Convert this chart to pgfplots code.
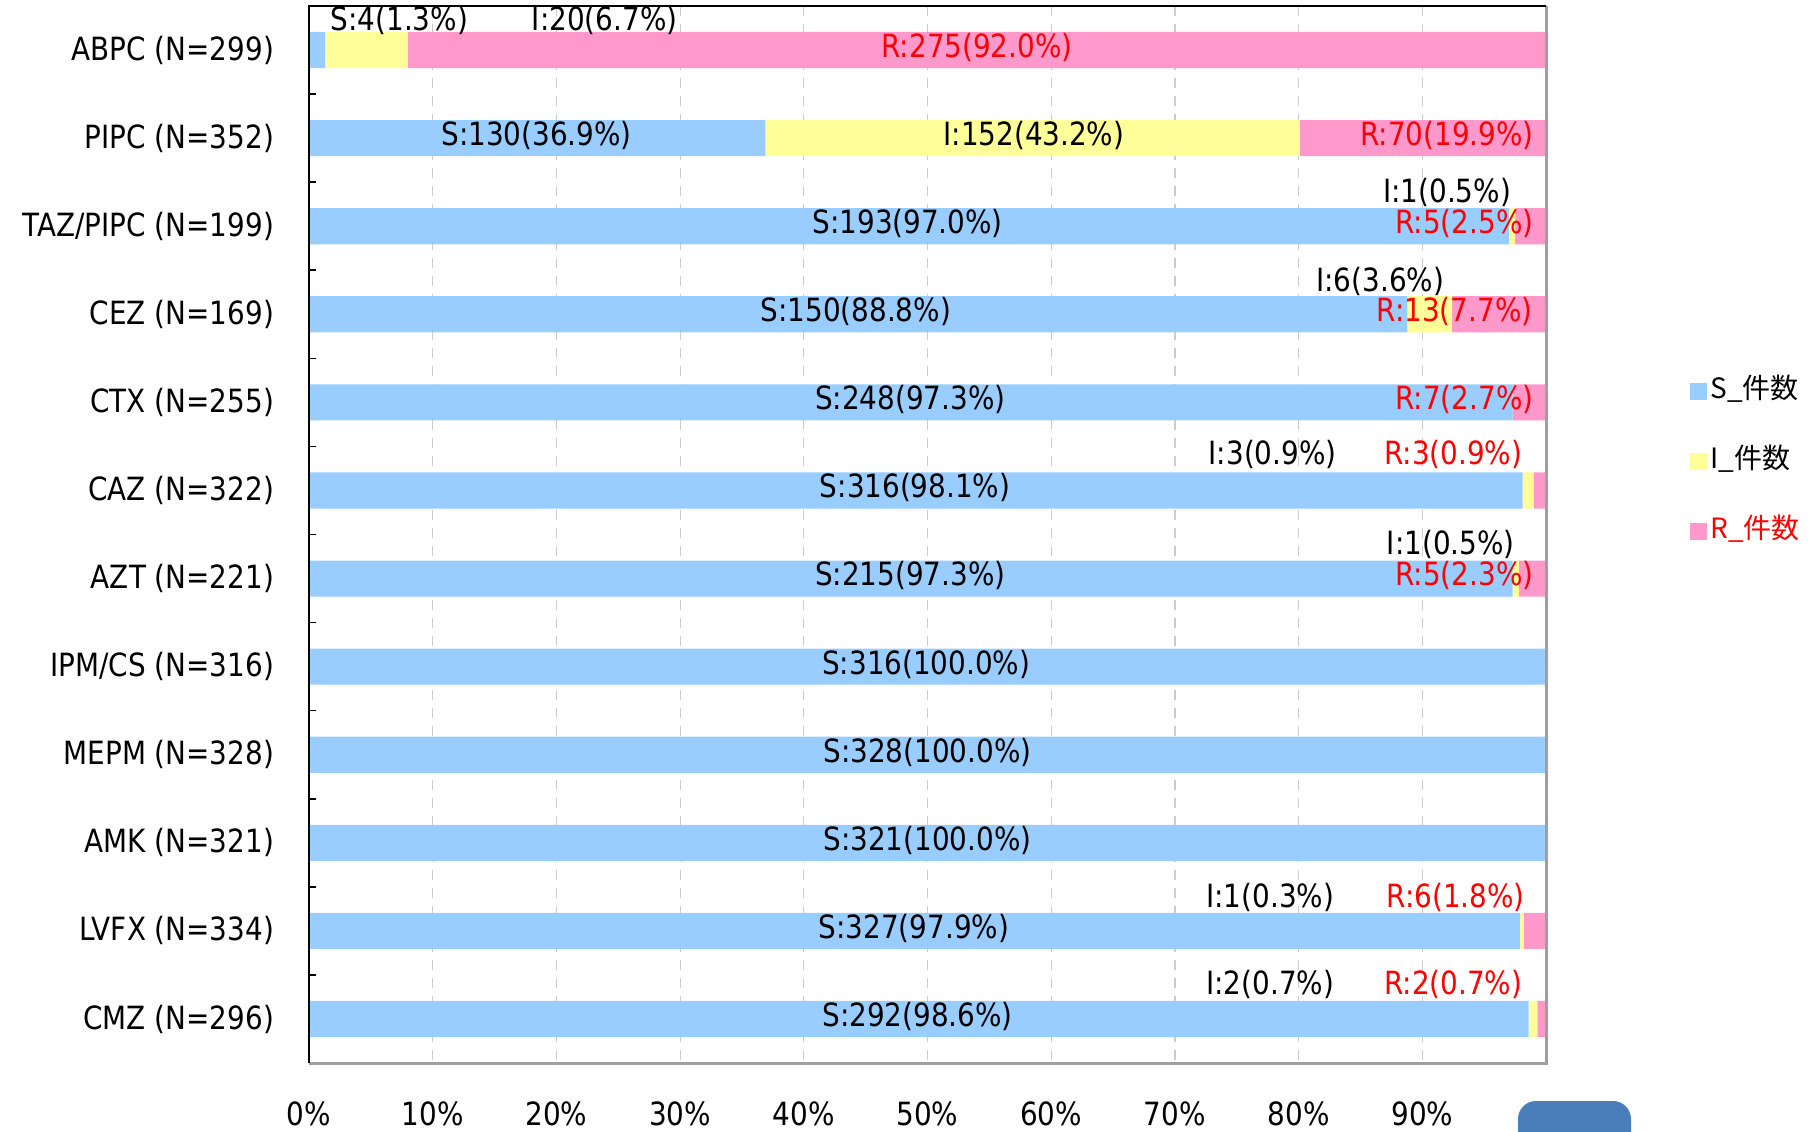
\documentclass[border=0pt]{standalone}
\usepackage{fontspec}
\setmainfont[FakeStretch=0.87]{DejaVu Sans}
\newfontfamily\cjk{Noto Sans CJK JP}
\usepackage{pgfplots}
\pgfplotsset{compat=1.18}
\pgfplotsset{sqleg/.style={legend image code/.code={\fill[##1,draw=none] (0pt,-4.25pt) rectangle (8.5pt,4.25pt);}}}
\definecolor{sS}{HTML}{99CCFF}
\definecolor{sI}{HTML}{FFFF99}
\definecolor{sR}{HTML}{FF99CC}
\definecolor{btn}{RGB}{74,126,187}
\definecolor{gridc}{HTML}{CCCCCC}
\definecolor{rtxt}{HTML}{FF0000}
\newcommand{\lf}{\fontsize{16}{19}\selectfont}
\begin{document}
\begin{tikzpicture}
\begin{axis}[
  scale only axis, width=618.5pt, height=528.5pt,
  xbar stacked, bar width=0.41,
  xmin=0, xmax=100, ymin=-0.5, ymax=11.5, y dir=reverse,
  axis line style={draw=none},
  xtick={0,10,20,30,40,50,60,70,80,90},
  xticklabels={0\%,10\%,20\%,30\%,40\%,50\%,60\%,70\%,80\%,90\%},
  xmajorgrids, grid style={gridc, dash pattern=on 5pt off 4pt, line width=0.6pt},
  major tick length=0pt,
  ytick={0,...,11},
  yticklabels={ABPC (N=299),PIPC (N=352),TAZ/PIPC (N=199),CEZ (N=169),CTX (N=255),CAZ (N=322),AZT (N=221),IPM/CS (N=316),MEPM (N=328),AMK (N=321),LVFX (N=334),CMZ (N=296)},
  minor ytick={0.5,1.5,...,10.5}, minor tick length=3.5pt,
  minor tick style={black, line width=0.8pt},
  ytick pos=left, xtick pos=bottom,
  tick label style={font=\lf},
  yticklabel style={xshift=-14pt},
  xticklabel style={yshift=-16pt},
  legend cell align=left,
  legend style={at={(1.1164,0.5695)}, anchor=west, draw=none, fill=none, inner sep=0pt,
    row sep=19pt, font=\cjk\fontsize{14}{16}\selectfont,
    nodes={inner sep=1.5pt, text height=10pt, text depth=3pt}},
  sqleg,
]
\addplot[fill=sS, draw=none] coordinates {(1.3,0) (36.9,1) (97.0,2) (88.8,3) (97.3,4) (98.1,5) (97.3,6) (100,7) (100,8) (100,9) (97.9,10) (98.6,11)};
\addplot[fill=sI, draw=none] coordinates {(6.7,0) (43.2,1) (0.5,2) (3.6,3) (0,4) (0.9,5) (0.5,6) (0,7) (0,8) (0,9) (0.3,10) (0.7,11)};
\addplot[fill=sR, draw=none] coordinates {(92.0,0) (19.9,1) (2.5,2) (7.7,3) (2.7,4) (0.9,5) (2.3,6) (0,7) (0,8) (0,9) (1.8,10) (0.7,11)};
\legend{S\_件数, I\_件数, \textcolor{rtxt}{R\_件数}}

\coordinate (a1) at (axis cs:7.3,-0.34);
\coordinate (a2) at (axis cs:23.9,-0.34);
\coordinate (a3) at (axis cs:54,-0.03);
\coordinate (b1) at (axis cs:18.4,0.97);
\coordinate (b2) at (axis cs:58.6,0.97);
\coordinate (b3) at (axis cs:92,0.97);
\coordinate (c1) at (axis cs:48.4,1.97);
\coordinate (c2) at (axis cs:92,1.62);
\coordinate (c3) at (axis cs:93.4,1.97);
\coordinate (d1) at (axis cs:44.2,2.97);
\coordinate (d2) at (axis cs:86.6,2.63);
\coordinate (d3) at (axis cs:92.6,2.97);
\coordinate (e1) at (axis cs:48.6,3.97);
\coordinate (e3) at (axis cs:93.4,3.97);
\coordinate (f1) at (axis cs:49,4.97);
\coordinate (f2) at (axis cs:77.9,4.59);
\coordinate (f3) at (axis cs:92.5,4.59);
\coordinate (g1) at (axis cs:48.6,5.97);
\coordinate (g2) at (axis cs:92.3,5.61);
\coordinate (g3) at (axis cs:93.4,5.97);
\coordinate (h1) at (axis cs:49.9,6.97);
\coordinate (i1) at (axis cs:50,7.97);
\coordinate (j1) at (axis cs:50,8.97);
\coordinate (k1) at (axis cs:48.9,9.97);
\coordinate (k2) at (axis cs:77.7,9.62);
\coordinate (k3) at (axis cs:92.7,9.62);
\coordinate (l1) at (axis cs:49.2,10.97);
\coordinate (l2) at (axis cs:77.7,10.61);
\coordinate (l3) at (axis cs:92.5,10.61);
\end{axis}
\draw[gray!75, line width=1.5pt] (current axis.north east) -- (current axis.south east) -- (current axis.south west);
\draw[black, line width=1.2pt] (current axis.south west) -- (current axis.north west) -- (current axis.north east);

\node[font=\lf] at (a1) {S:4(1.3\%)};
\node[font=\lf] at (a2) {I:20(6.7\%)};
\node[font=\lf,text=rtxt] at (a3) {R:275(92.0\%)};
\node[font=\lf] at (b1) {S:130(36.9\%)};
\node[font=\lf] at (b2) {I:152(43.2\%)};
\node[font=\lf,text=rtxt] at (b3) {R:70(19.9\%)};
\node[font=\lf] at (c1) {S:193(97.0\%)};
\node[font=\lf] at (c2) {I:1(0.5\%)};
\node[font=\lf,text=rtxt] at (c3) {R:5(2.5\%)};
\node[font=\lf] at (d1) {S:150(88.8\%)};
\node[font=\lf] at (d2) {I:6(3.6\%)};
\node[font=\lf,text=rtxt] at (d3) {R:13(7.7\%)};
\node[font=\lf] at (e1) {S:248(97.3\%)};
\node[font=\lf,text=rtxt] at (e3) {R:7(2.7\%)};
\node[font=\lf] at (f1) {S:316(98.1\%)};
\node[font=\lf] at (f2) {I:3(0.9\%)};
\node[font=\lf,text=rtxt] at (f3) {R:3(0.9\%)};
\node[font=\lf] at (g1) {S:215(97.3\%)};
\node[font=\lf] at (g2) {I:1(0.5\%)};
\node[font=\lf,text=rtxt] at (g3) {R:5(2.3\%)};
\node[font=\lf] at (h1) {S:316(100.0\%)};
\node[font=\lf] at (i1) {S:328(100.0\%)};
\node[font=\lf] at (j1) {S:321(100.0\%)};
\node[font=\lf] at (k1) {S:327(97.9\%)};
\node[font=\lf] at (k2) {I:1(0.3\%)};
\node[font=\lf,text=rtxt] at (k3) {R:6(1.8\%)};
\node[font=\lf] at (l1) {S:292(98.6\%)};
\node[font=\lf] at (l2) {I:2(0.7\%)};
\node[font=\lf,text=rtxt] at (l3) {R:2(0.7\%)};

\fill[btn, rounded corners=9pt] (604.5pt,-19pt) rectangle (661pt,-50pt);
\pgfresetboundingbox
\path[use as bounding box] (-154.5pt,-34pt) rectangle (752.5pt,531.5pt);
\end{tikzpicture}
\end{document}
